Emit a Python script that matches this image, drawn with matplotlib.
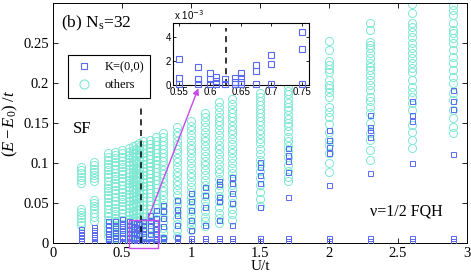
import matplotlib
matplotlib.use("Agg")
from matplotlib import pyplot as plt
from matplotlib.lines import Line2D
from matplotlib.patches import Rectangle

# "others" (circles): energies per U column
u_others = [0.2, 0.3, 0.4, 0.45, 0.5, 0.55, 0.58, 0.6, 0.625, 0.65, 0.7, 0.75,
            0.8, 0.9, 1.0, 1.1, 1.2, 1.3, 1.5, 1.7, 2.0, 2.3, 2.6, 2.9]
c02 = [0.095, 0.091, 0.087, 0.083, 0.079, 0.075, 0.043, 0.039, 0.035, 0.031, 0.026, 0.022]
c03 = [0.101, 0.097, 0.093, 0.089, 0.085, 0.081, 0.077, 0.054, 0.050, 0.046, 0.042, 0.037,
       0.033, 0.028]
c04 = [0.112, 0.107, 0.104, 0.099, 0.095, 0.091, 0.086, 0.082, 0.078, 0.073, 0.069, 0.065,
       0.060, 0.056, 0.051, 0.047, 0.043, 0.038, 0.034, 0.029, 0.024, 0.019, 0.014, 0.009]
c045 = [0.114, 0.110, 0.106, 0.101, 0.097, 0.093, 0.088, 0.084, 0.080, 0.075, 0.071, 0.066,
        0.062, 0.058, 0.053, 0.049, 0.044, 0.040, 0.036, 0.031, 0.027, 0.022, 0.017, 0.011, 0.006]
c05 = [0.116, 0.112, 0.108, 0.103, 0.099, 0.095, 0.090, 0.086, 0.081, 0.077, 0.073, 0.068,
       0.064, 0.059, 0.055, 0.051, 0.046, 0.042, 0.037, 0.033, 0.029, 0.024, 0.019, 0.014,
       0.009, 0.004]
c055 = [0.119, 0.114, 0.110, 0.106, 0.101, 0.097, 0.092, 0.088, 0.083, 0.079, 0.075, 0.070,
        0.066, 0.061, 0.057, 0.052, 0.048, 0.044, 0.039, 0.035, 0.030, 0.026, 0.021, 0.016,
        0.011, 0.005]
c058 = [0.121, 0.116, 0.112, 0.107, 0.103, 0.098, 0.094, 0.089, 0.085, 0.080, 0.076, 0.072,
        0.067, 0.063, 0.058, 0.054, 0.049, 0.045, 0.040, 0.036, 0.031, 0.027, 0.022, 0.017,
        0.012, 0.006]
c06 = [0.122, 0.118, 0.113, 0.109, 0.104, 0.100, 0.095, 0.091, 0.086, 0.082, 0.077, 0.073,
       0.068, 0.064, 0.059, 0.055, 0.050, 0.046, 0.041, 0.037, 0.032, 0.027, 0.022, 0.016,
       0.010, 0.004]
c0625 = [0.125, 0.120, 0.116, 0.111, 0.107, 0.102, 0.097, 0.093, 0.088, 0.084, 0.079, 0.074,
         0.070, 0.065, 0.061, 0.056, 0.051, 0.047, 0.042, 0.037, 0.032, 0.027, 0.021, 0.015,
         0.009, 0.004]
c065 = [0.127, 0.122, 0.118, 0.113, 0.108, 0.104, 0.099, 0.094, 0.090, 0.085, 0.080, 0.076,
        0.071, 0.066, 0.062, 0.057, 0.052, 0.048, 0.043, 0.038, 0.033, 0.028, 0.022, 0.016,
        0.010, 0.005]
c07 = [0.129, 0.124, 0.119, 0.115, 0.110, 0.105, 0.100, 0.096, 0.091, 0.086, 0.081, 0.077,
       0.072, 0.067, 0.062, 0.058, 0.053, 0.048, 0.043, 0.038, 0.032, 0.026, 0.020, 0.014, 0.007]
c075 = [0.133, 0.128, 0.123, 0.118, 0.113, 0.108, 0.104, 0.099, 0.094, 0.089, 0.084, 0.079,
        0.074, 0.069, 0.064, 0.059, 0.054, 0.049, 0.044, 0.037, 0.030, 0.023, 0.016, 0.009]
c08 = [0.1375, 0.132, 0.127, 0.122, 0.117, 0.112, 0.107, 0.102, 0.097, 0.091, 0.086, 0.081,
       0.076, 0.070, 0.065, 0.060, 0.054, 0.047, 0.040, 0.033, 0.026, 0.019, 0.012, 0.006]
c09 = [0.145, 0.139, 0.134, 0.128, 0.123, 0.117, 0.112, 0.106, 0.101, 0.095, 0.089, 0.084,
       0.078, 0.072, 0.066, 0.060, 0.053, 0.046, 0.039, 0.031, 0.024, 0.016, 0.009]
c10 = [0.152, 0.146, 0.141, 0.135, 0.129, 0.123, 0.118, 0.112, 0.106, 0.100, 0.094, 0.088,
       0.082, 0.076, 0.070, 0.064, 0.058, 0.052, 0.046, 0.040, 0.034, 0.028, 0.022, 0.016]
c11 = [0.163, 0.157, 0.151, 0.145, 0.139, 0.133, 0.127, 0.121, 0.115, 0.109, 0.103, 0.097,
       0.091, 0.085, 0.079, 0.072, 0.066, 0.059, 0.053, 0.046, 0.040, 0.033, 0.027, 0.021]
c12 = [0.176, 0.170, 0.164, 0.158, 0.152, 0.147, 0.141, 0.135, 0.129, 0.123, 0.117, 0.111,
       0.105, 0.099, 0.093, 0.087, 0.080, 0.073, 0.066, 0.059, 0.052, 0.045, 0.038, 0.031, 0.025]
c13 = [0.180, 0.174, 0.168, 0.163, 0.158, 0.152, 0.146, 0.141, 0.136, 0.130, 0.124, 0.118,
       0.112, 0.106, 0.100, 0.094, 0.088, 0.081, 0.073, 0.066, 0.058, 0.050, 0.043, 0.036, 0.029]
c15 = [0.188, 0.183, 0.177, 0.172, 0.168, 0.163, 0.158, 0.152, 0.147, 0.141, 0.136, 0.130,
       0.125, 0.118, 0.111, 0.104, 0.097, 0.090, 0.081, 0.072, 0.064, 0.055, 0.046]
c17 = [0.208, 0.203, 0.196, 0.190, 0.186, 0.180, 0.175, 0.170, 0.166, 0.160, 0.155, 0.150,
       0.146, 0.140, 0.133, 0.127, 0.121, 0.115, 0.108, 0.098, 0.090, 0.083, 0.077]
c20 = [0.252, 0.241, 0.227, 0.2225, 0.218, 0.214, 0.204, 0.1975, 0.194, 0.189, 0.183, 0.170,
       0.164, 0.158, 0.149, 0.139, 0.129, 0.123, 0.112, 0.0996, 0.089]
c23 = [0.2754, 0.266, 0.2517, 0.2475, 0.2433, 0.237, 0.231, 0.225, 0.2204, 0.216, 0.210,
       0.204, 0.1975, 0.191, 0.183, 0.177, 0.1704, 0.162, 0.1496, 0.137, 0.129, 0.1163, 0.104]
c26 = [0.2988, 0.287, 0.2746, 0.2704, 0.2642, 0.2579, 0.2496, 0.2433, 0.237, 0.2308, 0.2246,
       0.2183, 0.2142, 0.2038, 0.1954, 0.1892, 0.1829, 0.1746, 0.1663, 0.1475, 0.1392, 0.1288,
       0.1183]
c29 = [0.2975, 0.291, 0.285, 0.2746, 0.2663, 0.2621, 0.2558, 0.2496, 0.2413, 0.2329, 0.2246,
       0.2163, 0.2079, 0.1996, 0.1871, 0.1788, 0.1663, 0.1558, 0.1454, 0.1371]
others = [c02, c03, c04, c045, c05, c055, c058, c06, c0625, c065, c07, c075,
          c08, c09, c10, c11, c12, c13, c15, c17, c20, c23, c26, c29]

# K=(0,0) (squares), main panel part
u_k = [0.2, 0.3, 0.4, 0.45, 0.5, 0.55, 0.58, 0.6, 0.625, 0.65, 0.7, 0.75,
       0.8, 0.9, 1.0, 1.1, 1.2, 1.3, 1.5, 1.7, 2.0, 2.3, 2.6, 2.9]
s02 = [0.018, 0.014, 0.010, 0.006, 0.003, 0.0005]
s03 = [0.020, 0.016, 0.011, 0.007, 0.003, 0.0005]
s04 = [0.027, 0.022, 0.018, 0.013, 0.009, 0.005, 0.002, 0.0005]
s045 = [0.028, 0.023, 0.019, 0.014, 0.010, 0.006, 0.002, 0.0005]
s05 = [0.030, 0.025, 0.021, 0.016, 0.012, 0.007, 0.003, 0.0005]
s055 = [0.027, 0.022, 0.018, 0.013, 0.008]
s058 = [0.026, 0.021, 0.017, 0.012, 0.007]
s06 = [0.025, 0.020, 0.017, 0.011, 0.006]
s0625 = [0.024, 0.019, 0.016, 0.010]
s065 = [0.028, 0.022, 0.018, 0.013, 0.009]
s07 = [0.035, 0.027, 0.022, 0.016, 0.011]
s075 = [0.041, 0.031, 0.025, 0.018, 0.012]
s08 = [0.048, 0.040, 0.031, 0.021, 0.008, 0.006, 0.003, 0.0005]
s09 = [0.054, 0.043, 0.035, 0.023, 0.008, 0.006, 0.003, 0.0005]
s10 = [0.062, 0.052, 0.041, 0.029, 0.016, 0.006, 0.003, 0.0005]
s11 = [0.070, 0.060, 0.045, 0.0225, 0.006, 0.003, 0.0005]
s12 = [0.078, 0.074, 0.058, 0.053, 0.029, 0.006, 0.003, 0.0005]
s13 = [0.083, 0.075, 0.0625, 0.050, 0.0225, 0.006, 0.003, 0.0005]
s15 = [0.101, 0.095, 0.085, 0.075, 0.045, 0.006, 0.003, 0.0005]
s17 = [0.119, 0.110, 0.102, 0.089, 0.0575, 0.006, 0.003, 0.0005]
s20 = [0.141, 0.129, 0.120, 0.112, 0.0725, 0.006, 0.003, 0.0005]
s23 = [0.160, 0.145, 0.141, 0.133, 0.0875, 0.006, 0.003, 0.0005]
s26 = [0.177, 0.160, 0.152, 0.100, 0.006, 0.003, 0.0005]
s29 = [0.191, 0.177, 0.168, 0.111, 0.006, 0.003, 0.0005]
kstates = [s02, s03, s04, s045, s05, s055, s058, s06, s0625, s065, s07, s075,
           s08, s09, s10, s11, s12, s13, s15, s17, s20, s23, s26, s29]

# lowest K=(0,0) levels shown in the inset (units of 1e-3)
u_inset = [0.55, 0.58, 0.60, 0.61, 0.625, 0.64, 0.65, 0.675, 0.70, 0.75]
i055 = [2.18, 0.62, 0.08]
i058 = [1.47, 0.50, 0.08]
i060 = [0.99, 0.50, 0.08]
i061 = [0.71, 0.37, 0.08]
i0625 = [0.51, 0.08]
i064 = [0.56, 0.28, 0.08]
i065 = [0.99, 0.56, 0.28, 0.08]
i0675 = [1.72, 1.15, 0.08]
i070 = [2.54, 1.80, 0.08]
i075 = [4.46, 3.03, 0.08]
inset_levels = [i055, i058, i060, i061, i0625, i064, i065, i0675, i070, i075]

u_transition = 0.635

plt.rcParams["font.family"] = ["Liberation Serif", "DejaVu Serif"]
plt.rcParams["mathtext.fontset"] = "custom"
plt.rcParams["mathtext.rm"] = "Liberation Serif"
plt.rcParams["mathtext.it"] = "Liberation Serif:italic"

CIRC = "#7fe8d4"
SQ = "#5a6af0"
MAG = "#c84ae8"

fig = plt.figure(figsize=(4.71, 2.77), dpi=100)
ax = fig.add_axes([0.1125, 0.1227, 0.8790, 0.8664])

ox, oy = [], []
for u, vals in zip(u_others, others):
    ox += [u] * len(vals)
    oy += vals
kx, ky = [], []
for u, vals in zip(u_k, kstates):
    kx += [u] * len(vals)
    ky += vals
for u, vals in zip(u_inset, inset_levels):
    kx += [u] * len(vals)
    ky += [v * 1e-3 for v in vals]

ax.plot(ox, oy, "o", ms=5.8, mfc="none", mec=CIRC, mew=0.7, zorder=2)
ax.plot(kx, ky, "s", ms=3.6, mfc="none", mec=SQ, mew=0.7, zorder=3)
ax.plot([u_transition, u_transition], [0, 0.17], "k--", lw=1.1, dashes=(4, 3), zorder=4)

ax.add_patch(Rectangle((0.553, -0.006), 0.21, 0.035, fill=False, ec=MAG, lw=1.0,
                       clip_on=False, zorder=5))

ax.set_xlim(0, 3)
ax.set_ylim(0, 0.3)
ax.set_xticks([0, 0.5, 1, 1.5, 2, 2.5, 3])
ax.set_xticklabels(["0", "0.5", "1", "1.5", "2", "2.5", "3"])
ax.set_yticks([0, 0.05, 0.1, 0.15, 0.2, 0.25])
ax.set_yticklabels(["0", "0.05", "0.1", "0.15", "0.2", "0.25"])
ax.tick_params(direction="in", top=True, right=True, length=3.5, width=0.6,
               labelsize=10.5, pad=3)
for sp in ax.spines.values():
    sp.set_linewidth(0.7)
ax.set_xlabel("U/t", fontsize=11, labelpad=0)
ax.set_ylabel(r"$(E-E_0)\ /t$", fontsize=12, labelpad=2)

ax.text(0.02, 0.9, r"(b) N$_{\rm s}$=32", transform=ax.transAxes, fontsize=12.5)
ax.text(0.145, 0.1425, "SF", fontsize=12, va="center")
ax.text(2.3, 0.04, "ν=1/2 FQH", fontsize=11.5, va="center")

handles = [
    Line2D([], [], ls="none", marker="s", ms=4.2, mfc="none", mec=SQ, mew=0.8),
    Line2D([], [], ls="none", marker="o", ms=6.5, mfc="none", mec=CIRC, mew=0.8),
]
leg = ax.legend(handles, ["K=(0,0)", "others"], loc="upper left",
                bbox_to_anchor=(0.021, 0.81), fontsize=9, fancybox=False,
                framealpha=1, edgecolor="black", handletextpad=0.8, borderpad=0.5,
                labelspacing=0.5, handlelength=1.6)
leg.get_frame().set_linewidth(0.8)

# inset
axi = fig.add_axes([0.3673, 0.6931, 0.2887, 0.2238])
ix, iy = [], []
for u, vals in zip(u_inset, inset_levels):
    ix += [u] * len(vals)
    iy += vals
axi.plot(ix, iy, "s", ms=4.8, mfc="none", mec=SQ, mew=0.8, clip_on=False, zorder=3)
axi.plot([0.626, 0.626], [0, 4.8], "k--", lw=1.1, dashes=(4, 3))
axi.set_xlim(0.54, 0.761)
axi.set_ylim(0, 5.2)
axi.set_xticks([0.55, 0.6, 0.65, 0.7, 0.75])
axi.set_xticklabels(["0.55", "0.6", "0.65", "0.7", "0.75"])
axi.set_yticks([0, 2, 4])
axi.set_yticklabels(["0", "2", "4"])
axi.tick_params(direction="in", top=True, right=True, length=2.5, width=0.6,
                labelsize=7, pad=1.5, labelfontfamily="Liberation Sans")
for sp in axi.spines.values():
    sp.set_linewidth(0.8)
fig.text(174 / 471, 1 - 15 / 277, r"x 10$^{-3}$", fontsize=7, va="center",
         family="Liberation Sans", math_fontfamily="dejavusans")

ax.annotate("", xy=(198.3 / 471, 1 - 88.3 / 277), xycoords="figure fraction",
            xytext=(0.69, 0.031), textcoords="data",
            arrowprops=dict(arrowstyle="-|>", color=MAG, lw=1.0, mutation_scale=9,
                            shrinkA=0, shrinkB=0), zorder=6)

fig.savefig("out.png", dpi=100)
